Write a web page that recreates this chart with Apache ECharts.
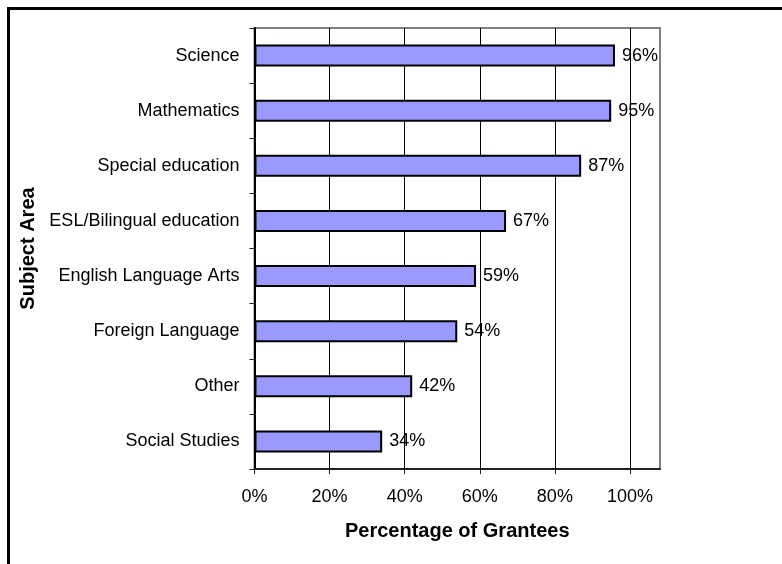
<!DOCTYPE html>
<html>
<head>
<meta charset="utf-8">
<script src="https://cdn.jsdelivr.net/npm/echarts@6/dist/echarts.min.js"></script>
<style>
html,body{margin:0;padding:0;background:#fff;}
#chart{width:782px;height:564px;}
</style>
</head>
<body>
<div id="chart"></div>
<script>
var categories = ["Science", "Mathematics", "Special education", "ESL/Bilingual education", "English Language Arts", "Foreign Language", "Other", "Social Studies"];
var values = [96, 95, 87, 67, 59, 54, 42, 34];
var tickValues = [0, 20, 40, 60, 80, 100];

var chart = echarts.init(document.getElementById('chart'), null, {renderer: 'canvas'});
var font = 'Liberation Sans, Arial, sans-serif';
chart.setOption({
  animation: false,
  backgroundColor: '#ffffff',
  textStyle: {fontFamily: font},
  grid: {left: 254.5, right: 122, top: 28, bottom: 95, show: true, borderColor: '#808080', borderWidth: 2, backgroundColor: 'transparent'},
  xAxis: {
    type: 'value', min: 0, max: 108, interval: 20,
    name: 'Percentage of Grantees', nameLocation: 'middle', nameGap: 52,
    nameTextStyle: {fontFamily: font, fontSize: 20, fontWeight: 'bold', color: '#000'},
    axisLine: {show: true, lineStyle: {color: '#222', width: 2}},
    axisTick: {show: true, length: 5, lineStyle: {color: '#222', width: 1}, customValues: tickValues},
    axisLabel: {formatter: '{value}%', fontFamily: font, fontSize: 18, color: '#000', margin: 19, customValues: tickValues},
    splitLine: {show: true, showMinLine: false, lineStyle: {color: '#000', width: 1}}
  },
  yAxis: {
    type: 'category', data: categories, inverse: true,
    name: 'Subject Area', nameLocation: 'middle', nameGap: 216, nameRotate: 90,
    nameTextStyle: {fontFamily: font, fontSize: 20, fontWeight: 'bold', color: '#000'},
    axisLine: {show: true, lineStyle: {color: '#000', width: 2}},
    axisTick: {show: true, length: 5, alignWithLabel: false, lineStyle: {color: '#222', width: 1}},
    axisLabel: {fontFamily: font, fontSize: 18, color: '#000', margin: 15, interval: 0},
    splitLine: {show: false}
  },
  series: [{
    type: 'bar', data: values, barWidth: '40%',
    itemStyle: {color: '#9999FF', borderColor: '#000', borderWidth: 2},
    label: {show: true, position: 'right', distance: 7, formatter: '{c}%', fontFamily: font, fontSize: 18, color: '#000'}
  }],
  graphic: [
    {type: 'line', shape: {x1: 8.5, y1: 8.5, x2: 782, y2: 8.5}, style: {stroke: '#000', lineWidth: 3}, z: 100},
    {type: 'line', shape: {x1: 8.5, y1: 7, x2: 8.5, y2: 564}, style: {stroke: '#000', lineWidth: 3}, z: 100}
  ]
});
</script>
</body>
</html>
